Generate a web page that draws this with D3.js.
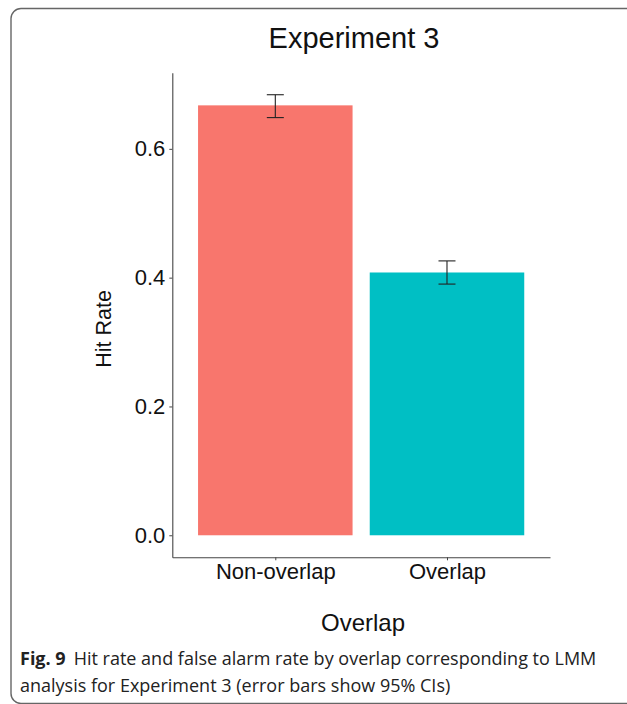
<!DOCTYPE html>
<html><head><meta charset="utf-8">
<script src="https://cdn.jsdelivr.net/npm/d3@7"></script>
<style>html,body{margin:0;padding:0;background:#fff;}svg{display:block;}</style>
</head><body>
<script>
const categories = ["Non-overlap", "Overlap"];
const hitRate = [0.6675, 0.408];
const ciLow = [0.6485, 0.390];
const ciHigh = [0.684, 0.426];
const colors = ["#F8766D", "#00BFC4"];
const yTicks = [0.0, 0.2, 0.4, 0.6];
const title = "Experiment 3";
const yTitle = "Hit Rate";
const xTitle = "Overlap";
const captionBold = "Fig. 9";
const captionLine1 = "Hit rate and false alarm rate by overlap corresponding to LMM";
const captionLine2 = "analysis for Experiment 3 (error bars show 95% CIs)";

const W = 627, H = 704;
const svg = d3.select("body").append("svg").attr("width", W).attr("height", H);

// border frame
svg.append("rect").attr("x", 11).attr("y", 8.5).attr("width", 640).attr("height", 695)
  .attr("rx", 10).attr("fill", "none").attr("stroke", "#666").attr("stroke-width", 1.4);

const pLeft = 172.3, pRight = 550, pTop = 72.7, pBottom = 557.3;
const font = "'Liberation Sans', Arial, sans-serif";

// y scale with ggplot-like 5% expansion
const ymax = d3.max(ciHigh);
const y = d3.scaleLinear().domain([-0.05 * ymax, ymax * 1.05]).range([pBottom, pTop]);
// discrete x with 0.6 expansion
const xc = d3.scaleLinear().domain([0.4, categories.length + 0.6]).range([pLeft, pRight]);
const bw = 0.9 * (xc(1) - xc(0));

const g = svg.append("g");

// bars
g.selectAll("rect.bar").data(categories).join("rect").attr("class", "bar")
  .attr("x", (d, i) => xc(i + 1) - bw / 2)
  .attr("width", bw)
  .attr("y", (d, i) => y(hitRate[i]))
  .attr("height", (d, i) => y(0) - y(hitRate[i]))
  .attr("fill", (d, i) => colors[i]);

// error bars
const capW = 17;
categories.forEach((c, i) => {
  const cx = xc(i + 1);
  const eg = g.append("g").attr("stroke", "#222").attr("stroke-width", 1.1);
  eg.append("line").attr("x1", cx).attr("x2", cx).attr("y1", y(ciLow[i])).attr("y2", y(ciHigh[i]));
  eg.append("line").attr("x1", cx - capW / 2).attr("x2", cx + capW / 2).attr("y1", y(ciLow[i])).attr("y2", y(ciLow[i]));
  eg.append("line").attr("x1", cx - capW / 2).attr("x2", cx + capW / 2).attr("y1", y(ciHigh[i])).attr("y2", y(ciHigh[i]));
});

// y axis
const yAxis = svg.append("g").attr("transform", `translate(${pLeft},0)`)
  .call(d3.axisLeft(y).tickValues(yTicks).tickFormat(d3.format(".1f")).tickSize(3).tickPadding(4).tickSizeOuter(0));
yAxis.select(".domain").attr("stroke", "#444").attr("stroke-width", 1.1);
yAxis.selectAll(".tick line").attr("stroke", "#444");
yAxis.selectAll(".tick text").attr("fill", "#111").style("font-family", font).style("font-size", "22px");

// x axis
const xAxis = svg.append("g").attr("transform", `translate(0,${pBottom})`)
  .call(d3.axisBottom(xc).tickValues(categories.map((d, i) => i + 1)).tickFormat((d) => categories[d - 1]).tickSize(3).tickPadding(4).tickSizeOuter(0));
xAxis.select(".domain").attr("stroke", "#444").attr("stroke-width", 1.1);
xAxis.selectAll(".tick line").attr("stroke", "#444");
xAxis.selectAll(".tick text").attr("fill", "#111").style("font-family", font).style("font-size", "22px")
  .attr("dy", null).attr("y", 22);

// titles
svg.append("text").attr("x", 354).attr("y", 48).attr("text-anchor", "middle")
  .style("font-family", font).style("font-size", "29px").attr("fill", "#111").text(title);
svg.append("text").attr("transform", `translate(111,329) rotate(-90)`).attr("text-anchor", "middle")
  .style("font-family", font).style("font-size", "21.5px").attr("fill", "#111").text(yTitle);
svg.append("text").attr("x", 363).attr("y", 631).attr("text-anchor", "middle")
  .style("font-family", font).style("font-size", "24px").attr("fill", "#111").text(xTitle);

// caption
const capFont = "'Open Sans', 'Noto Sans', sans-serif";
const cap1 = svg.append("text").attr("x", 20).attr("y", 665).style("font-family", capFont).style("font-size", "18px").attr("fill", "#222");
cap1.append("tspan").style("font-weight", "bold").text(captionBold);
cap1.append("tspan").attr("dx", 8).text(captionLine1);
svg.append("text").attr("x", 20).attr("y", 692).style("font-family", capFont).style("font-size", "18px").attr("fill", "#222").text(captionLine2);
</script>
</body></html>
